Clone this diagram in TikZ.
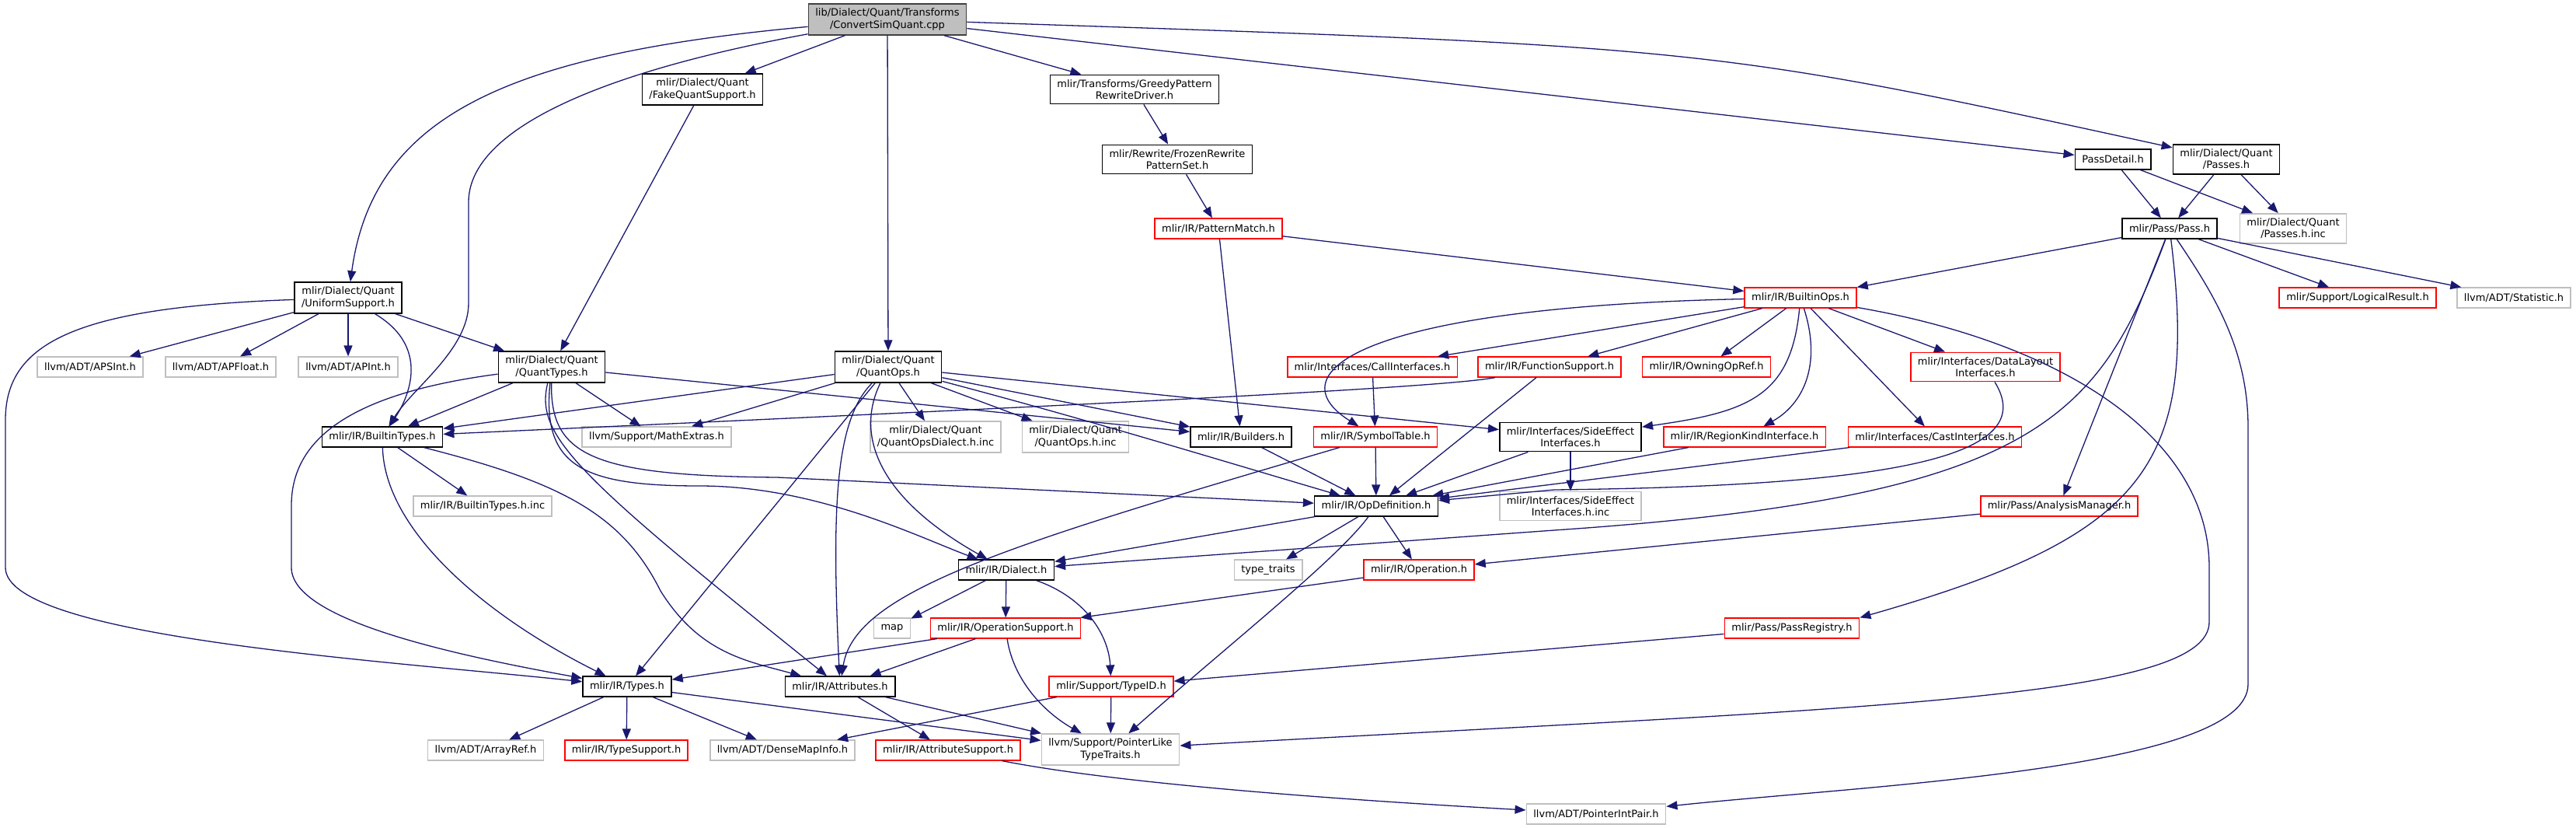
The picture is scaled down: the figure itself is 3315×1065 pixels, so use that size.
\documentclass[tikz,border=0pt]{standalone}
\usepackage{fontspec}
\setmainfont{DejaVu Sans}
\usepackage{tikz}
\usetikzlibrary{arrows.meta}
\definecolor{edgeblue}{RGB}{25,25,112}
\definecolor{truncred}{RGB}{255,0,0}
\definecolor{undocgray}{RGB}{191,191,191}
\definecolor{rootgray}{RGB}{64,64,64}

\begin{document}
\begin{tikzpicture}[x=0.5pt,y=-0.5pt,
    hdr/.style={draw,line width=0.8pt,align=center,inner xsep=4.5pt,inner ysep=3pt,
      minimum height=12.8pt,font=\fontsize{6.5}{7.6}\selectfont},
    doc/.style={hdr,draw=black},
    trunc/.style={hdr,draw=truncred},
    undoc/.style={hdr,draw=undocgray},
    src/.style={hdr,draw=rootgray,fill=undocgray},
    dep/.style={edgeblue,line width=0.65pt,-{Triangle[length=7pt,width=5.5pt]}}]
  \useasboundingbox (0,0) rectangle (3315,1065);

  % files
  \node[src] (root) at (1142,25) {lib/Dialect/Quant/Transforms\\/ConvertSimQuant.cpp};
  \node[doc] (fake) at (904,115) {mlir/Dialect/Quant\\/FakeQuantSupport.h};
  \node[doc] (greedy) at (1460,115) {mlir/Transforms/GreedyPattern\\RewriteDriver.h};
  \node[doc] (frozen) at (1515,205) {mlir/Rewrite/FrozenRewrite\\PatternSet.h};
  \node[trunc] (pmatch) at (1568,294) {mlir/IR/PatternMatch.h};
  \node[doc] (pdetail) at (2719,205) {PassDetail.h};
  \node[doc] (passes) at (2865,205) {mlir/Dialect/Quant\\/Passes.h};
  \node[doc] (pass) at (2792,294) {mlir/Pass/Pass.h};
  \node[undoc] (passinc) at (2951,294) {mlir/Dialect/Quant\\/Passes.h.inc};
  \node[doc] (uniform) at (448,383) {mlir/Dialect/Quant\\/UniformSupport.h};
  \node[trunc] (bops) at (2317,383) {mlir/IR/BuiltinOps.h};
  \node[trunc] (logres) at (3034,383) {mlir/Support/LogicalResult.h};
  \node[undoc] (stat) at (3235,383) {llvm/ADT/Statistic.h};
  \node[undoc] (apsint) at (116,472) {llvm/ADT/APSInt.h};
  \node[undoc] (apfloat) at (284,472) {llvm/ADT/APFloat.h};
  \node[undoc] (apint) at (448,472) {llvm/ADT/APInt.h};
  \node[doc] (qtypes) at (710,472) {mlir/Dialect/Quant\\/QuantTypes.h};
  \node[doc] (qops) at (1143,472) {mlir/Dialect/Quant\\/QuantOps.h};
  \node[trunc] (callif) at (1766,472) {mlir/Interfaces/CallInterfaces.h};
  \node[trunc] (funcsup) at (1994,472) {mlir/IR/FunctionSupport.h};
  \node[trunc] (owning) at (2196,472) {mlir/IR/OwningOpRef.h};
  \node[trunc] (dlayout) at (2555,472) {mlir/Interfaces/DataLayout\\Interfaces.h};
  \node[doc] (btypes) at (492,562) {mlir/IR/BuiltinTypes.h};
  \node[undoc] (mathx) at (845,562) {llvm/Support/MathExtras.h};
  \node[undoc] (qdinc) at (1204,562) {mlir/Dialect/Quant\\/QuantOpsDialect.h.inc};
  \node[undoc] (qopsinc) at (1384,562) {mlir/Dialect/Quant\\/QuantOps.h.inc};
  \node[doc] (builders) at (1597,562) {mlir/IR/Builders.h};
  \node[trunc] (symtab) at (1770,562) {mlir/IR/SymbolTable.h};
  \node[doc] (sideeff) at (2021,562) {mlir/Interfaces/SideEffect\\Interfaces.h};
  \node[trunc] (regkind) at (2245,562) {mlir/IR/RegionKindInterface.h};
  \node[trunc] (castif) at (2490,562) {mlir/Interfaces/CastInterfaces.h};
  \node[undoc] (btinc) at (621,651) {mlir/IR/BuiltinTypes.h.inc};
  \node[doc] (opdef) at (1771,651) {mlir/IR/OpDefinition.h};
  \node[undoc] (seinc) at (2021,651) {mlir/Interfaces/SideEffect\\Interfaces.h.inc};
  \node[trunc] (anmgr) at (2650,651) {mlir/Pass/AnalysisManager.h};
  \node[doc] (dialect) at (1295,733) {mlir/IR/Dialect.h};
  \node[undoc] (ttraits) at (1632,733) {type\_traits};
  \node[trunc] (operation) at (1826,733) {mlir/IR/Operation.h};
  \node[undoc] (map) at (1148,808) {map};
  \node[trunc] (opsup) at (1294,808) {mlir/IR/OperationSupport.h};
  \node[trunc] (preg) at (2306,808) {mlir/Pass/PassRegistry.h};
  \node[doc] (types) at (807,883) {mlir/IR/Types.h};
  \node[doc] (attrs) at (1081,883) {mlir/IR/Attributes.h};
  \node[trunc] (typeid) at (1430,883) {mlir/Support/TypeID.h};
  \node[undoc] (arrayref) at (625,965) {llvm/ADT/ArrayRef.h};
  \node[trunc] (typesup) at (806,965) {mlir/IR/TypeSupport.h};
  \node[undoc] (dmi) at (1007,965) {llvm/ADT/DenseMapInfo.h};
  \node[trunc] (attrsup) at (1220,965) {mlir/IR/AttributeSupport.h};
  \node[undoc] (plt) at (1429,964) {llvm/Support/PointerLike\\TypeTraits.h};
  \node[undoc] (pip) at (2054,1047) {llvm/ADT/PointerIntPair.h};

  % includes
  \draw[dep] (root) .. controls (650,70) and (480,150) .. (uniform);
  \draw[dep] (root) .. controls (760,95) and (603,170) .. (603,260) -- (603,390)
    .. controls (603,450) and (530,500) .. (btypes);
  \draw[dep] (root) -- (fake);
  \draw[dep] (root) -- (qops);
  \draw[dep] (root) -- (greedy);
  \draw[dep] (root) -- (pdetail);
  \draw[dep] (root) .. controls (2200,60) .. (passes);
  \draw[dep] (fake) -- (qtypes);
  \draw[dep] (greedy) -- (frozen);
  \draw[dep] (frozen) -- (pmatch);
  \draw[dep] (pmatch) -- (bops);
  \draw[dep] (pmatch) -- (builders);
  \draw[dep] (pdetail) -- (pass);
  \draw[dep] (pdetail) -- (passinc);
  \draw[dep] (passes) -- (pass);
  \draw[dep] (passes) -- (passinc);
  \draw[dep] (pass) -- (bops);
  \draw[dep] (pass) -- (logres);
  \draw[dep] (pass) -- (stat);
  \draw[dep] (pass) -- (anmgr);
  \draw[dep] (pass) .. controls (2830,600) and (2760,690) .. (preg.north east);
  \draw[dep] (pass) .. controls (2700,540) and (2620,640) .. (2000,682) -- (dialect);
  \draw[dep] (pass) .. controls (2850,380) and (2893,450) .. (2893,550) -- (2893,880)
    .. controls (2893,990) and (2400,1010) .. (pip);
  \draw[dep] (uniform) -- (apsint);
  \draw[dep] (uniform) -- (apfloat);
  \draw[dep] (uniform) -- (apint);
  \draw[dep] (uniform) -- (qtypes);
  \draw[dep] (uniform) .. controls (560,450) and (520,520) .. (btypes);
  \draw[dep] (uniform) .. controls (100,395) and (7,440) .. (7,540) -- (7,730)
    .. controls (7,820) and (500,850) .. (types);
  \draw[dep] (bops) .. controls (1750,395) and (1640,480) .. (symtab);
  \draw[dep] (bops) -- (callif);
  \draw[dep] (bops) -- (funcsup);
  \draw[dep] (bops) -- (owning);
  \draw[dep] (bops) .. controls (2305,510) and (2250,530) .. (sideeff);
  \draw[dep] (bops) .. controls (2345,470) and (2320,520) .. (regkind);
  \draw[dep] (bops) -- (castif);
  \draw[dep] (bops) -- (dlayout);
  \draw[dep] (bops) .. controls (2650,440) and (2843,560) .. (2843,730) -- (2843,800)
    .. controls (2843,900) and (2400,910) .. (plt);
  \draw[dep] (qtypes) -- (btypes);
  \draw[dep] (qtypes) -- (mathx);
  \draw[dep] (qtypes) -- (builders);
  \draw[dep] (qtypes) .. controls (460,505) and (375,560) .. (375,650) -- (375,730)
    .. controls (375,800) and (600,845) .. (types);
  \draw[dep] (qtypes) .. controls (688,560) and (740,610) .. (attrs);
  \draw[dep] (qtypes) .. controls (697,600) and (750,625) .. (900,625)
    .. controls (1050,625) and (1180,690) .. (dialect);
  \draw[dep] (qtypes) .. controls (708,585) and (760,612) .. (1000,614) -- (opdef);
  \draw[dep] (qops) -- (btypes);
  \draw[dep] (qops) -- (mathx);
  \draw[dep] (qops) -- (types);
  \draw[dep] (qops) .. controls (1075,540) and (1070,650) .. (attrs);
  \draw[dep] (qops) .. controls (1100,560) and (1130,640) .. (dialect);
  \draw[dep] (qops) -- (qdinc);
  \draw[dep] (qops) -- (qopsinc);
  \draw[dep] (qops) -- (builders);
  \draw[dep] (qops) .. controls (1400,540) and (1530,580) .. (opdef);
  \draw[dep] (qops) -- (sideeff);
  \draw[dep] (callif) -- (symtab);
  \draw[dep] (funcsup) -- (opdef);
  \draw[dep] (funcsup) .. controls (1850,500) and (1300,525) .. (btypes);
  \draw[dep] (dlayout) .. controls (2625,585) and (2450,625) .. (2000,630) -- (opdef);
  \draw[dep] (btypes) -- (btinc);
  \draw[dep] (btypes) .. controls (495,680) and (620,790) .. (types);
  \draw[dep] (btypes) .. controls (720,620) and (800,660) .. (850,760)
    .. controls (900,840) and (960,850) .. (attrs);
  \draw[dep] (builders) -- (opdef);
  \draw[dep] (symtab) -- (opdef);
  \draw[dep] (symtab) .. controls (1300,700) and (1100,760) .. (attrs);
  \draw[dep] (sideeff) -- (opdef);
  \draw[dep] (sideeff) -- (seinc);
  \draw[dep] (regkind) -- (opdef);
  \draw[dep] (castif) -- (opdef);
  \draw[dep] (anmgr) -- (operation);
  \draw[dep] (opdef) -- (dialect);
  \draw[dep] (opdef) -- (ttraits);
  \draw[dep] (opdef) -- (operation);
  \draw[dep] (opdef) .. controls (1720,720) and (1580,830) .. (plt);
  \draw[dep] (operation) -- (opsup);
  \draw[dep] (dialect) -- (map);
  \draw[dep] (dialect) -- (opsup);
  \draw[dep] (dialect) .. controls (1400,770) and (1427,820) .. (typeid);
  \draw[dep] (opsup) -- (types);
  \draw[dep] (opsup) -- (attrs);
  \draw[dep] (opsup) .. controls (1305,880) and (1350,920) .. (plt);
  \draw[dep] (preg) -- (typeid);
  \draw[dep] (types) -- (arrayref);
  \draw[dep] (types) -- (typesup);
  \draw[dep] (types) -- (dmi);
  \draw[dep] (types) -- (plt);
  \draw[dep] (attrs) -- (attrsup);
  \draw[dep] (attrs) -- (plt);
  \draw[dep] (typeid) -- (dmi);
  \draw[dep] (typeid) -- (plt);
  \draw[dep] (attrsup) .. controls (1450,1010) and (1750,1030) .. (pip);
\end{tikzpicture}
\end{document}
